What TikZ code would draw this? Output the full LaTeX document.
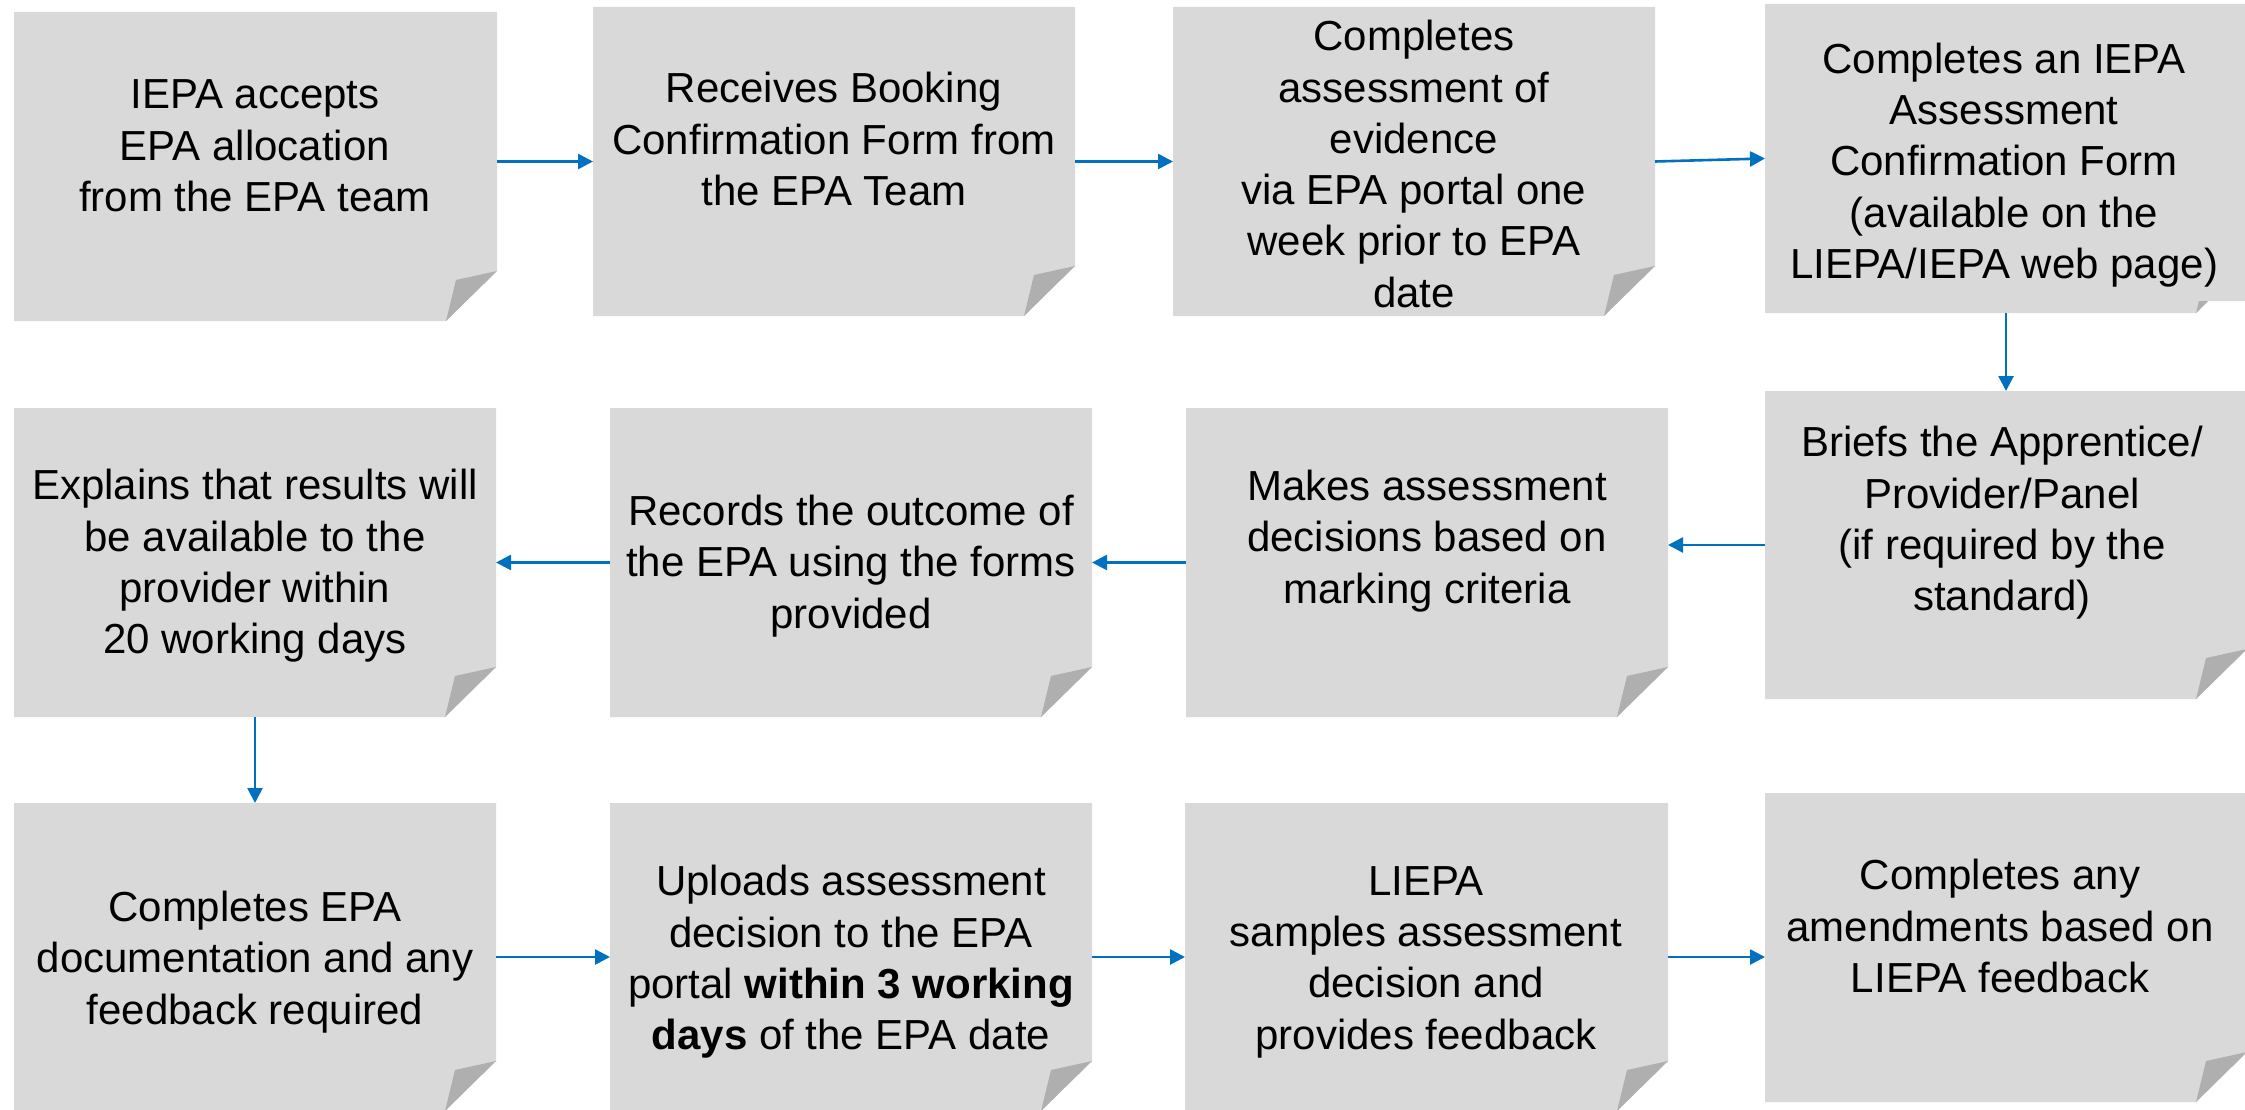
\documentclass[tikz,border=0pt]{standalone}
\usepackage{fontspec}
\setmainfont{Liberation Sans}
\usetikzlibrary{arrows.meta}
\definecolor{boxgray}{HTML}{D9D9D9}
\definecolor{flapgray}{HTML}{AFAFAF}
\definecolor{arrowblue}{HTML}{0070C0}
\tikzset{
  boxshape/.style={rectangle, draw=none, fill=none, inner sep=0pt, outer sep=0pt},
  txt/.style={align=center, inner sep=0pt, font=\fontsize{42}{51.3}\selectfont},
  arr/.style={draw=arrowblue, line width=2.6pt, -{Triangle[length=15pt,width=15pt]}, shorten >=0pt}
}
% \notebox{name}{x0}{y0}{x1}{y1}
\newcommand\notebox[5]{%
  \fill[boxgray] (#2,#3) -- (#4,#3) -- (#4,{#5-50}) -- ({#4-51},#5) -- (#2,#5) -- cycle;
  \fill[flapgray] (#4,{#5-50}) -- ({#4-51},#5) -- ({#4-41},{#5-41}) -- cycle;
  \node[boxshape, minimum width={(#4-#2)*1pt}, minimum height={(#5-#3)*1pt}] (#1) at ({(#2+#4)/2},{(#3+#5)/2}) {};
}
\begin{document}
\begin{tikzpicture}[x=1pt,y=-1pt]
\useasboundingbox (0,0) rectangle (2245,1110);
\clip (0,0) rectangle (2245,1110);

% row 1
\notebox{b1}{14}{12}{497}{321}
\notebox{b2}{593}{7}{1075}{316}
\notebox{b3}{1173}{7}{1655}{316}
% box 4 with its own fold
\fill[boxgray] (1765,4) -- (2252,4) -- (2252,301) -- (2208,301) -- (2196,313) -- (1765,313) -- cycle;
\fill[flapgray] (2196,313) -- (2199,301) -- (2208,301) -- cycle;
\node[boxshape, minimum width=487pt, minimum height=309pt] (b4) at (2008.5,158.5) {};

% row 2
\notebox{b5}{14}{408}{496}{717}
\notebox{b6}{610}{408}{1092}{717}
\notebox{b7}{1186}{408}{1668}{717}
\notebox{b8}{1765}{391}{2247}{699}

% row 3
\notebox{b9}{14}{803}{496}{1111}
\notebox{b10}{610}{803}{1092}{1111}
\notebox{b11}{1185}{803}{1668}{1111}
\notebox{b12}{1765}{793}{2247}{1102}

% texts
\node[txt] (t1) at (255,146) {IEPA accepts\\EPA allocation\\from the EPA team};
\node[txt] (t2) at (834,139) {Receives Booking\\Confirmation Form from\\the EPA Team};
\node[txt] (t3) at (1414,164) {Completes\\assessment of\\evidence\\via EPA portal one\\week prior to EPA\\date};
\node[txt] (t4) at (2004,165) {Completes an IEPA\\Assessment\\Confirmation Form\\(available on the\\LIEPA/IEPA web page)};

\node[txt] (t5) at (255,566) {Explains that results will\\be available to the\\provider within\\20 working days};
\node[txt] (t6) at (851,566) {Records the outcome of\\the EPA using the forms\\provided};
\node[txt] (t7) at (1427,541) {Makes assessment\\decisions based on\\marking criteria};
\node[txt] (t8) at (2002,523) {Briefs the Apprentice/\\Provider/Panel\\(if required by the\\standard)};

\node[txt] (t9) at (255,962) {Completes EPA\\documentation and any\\feedback required};
\node[txt] (t10) at (851,962) {Uploads assessment\\decision to the EPA\\portal \textbf{within 3 working}\\\textbf{days} of the EPA date};
\node[txt] (t11) at (1426,962) {LIEPA\\samples assessment\\decision and\\provides feedback};
\node[txt] (t12) at (2000,926) {Completes any\\amendments based on\\LIEPA feedback};

% connectors
\draw[arr] (b1.east |- b2.west) -- (b2.west);
\draw[arr] (b2.east) -- (b3.west);
\draw[arr] (b3.east) -- (b4.west);
\draw[arr] (b4.south -| b8.north) -- (b8.north);
\draw[arr] (b8.west) -- (b7.east |- b8.west);
\draw[arr] (b7.west) -- (b6.east);
\draw[arr] (b6.west) -- (b5.east);
\draw[arr] (b5.south) -- (b9.north);
\draw[arr] (b9.east) -- (b10.west);
\draw[arr] (b10.east) -- (b11.west);
\draw[arr] (b11.east) -- (b12.west |- b11.east);
\end{tikzpicture}
\end{document}
